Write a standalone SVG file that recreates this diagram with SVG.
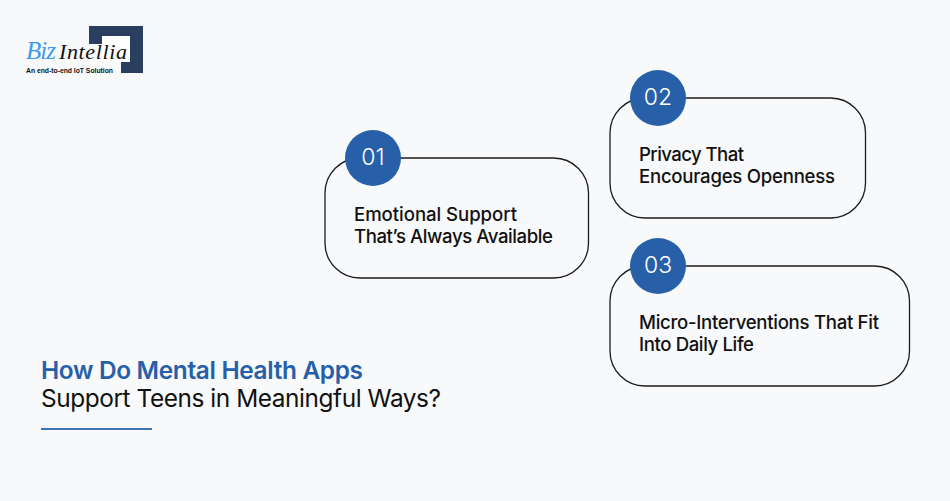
<svg xmlns="http://www.w3.org/2000/svg" width="950" height="501" viewBox="0 0 950 501">
<style>
.card{fill:none;stroke:#1c1c1c;stroke-width:1.3}
.dot{fill:#275fa9}
.num{font:300 23px Inter,"Liberation Sans",sans-serif;fill:#fff;text-anchor:middle}
.lbl{font:500 18.6px Inter,"Liberation Sans",sans-serif;fill:#111}
</style>
<rect width="950" height="501" fill="#f8f9fb"/>
<g id="logo">
<path d="M89 26H143V73H121V62H130V36H102V44H89Z" fill="#2a3f5f"/>
<rect x="102" y="36" width="28" height="26" fill="#fff"/>
<text x="26" y="59" font-family="'Liberation Serif',serif" font-style="italic" font-size="25" fill="#3f9bea" textLength="30">Biz</text>
<text x="59" y="59" font-family="'Liberation Serif',serif" font-style="italic" font-size="22" fill="#111" textLength="68">Intellia</text>
<text x="26" y="73" font-family="'Liberation Sans',sans-serif" font-weight="700" font-size="6.8" fill="#111" textLength="87">An end-to-end IoT Solution</text>
</g>
<g id="title">
<text x="41" y="379" font-family="Inter,'Liberation Sans',sans-serif" font-weight="600" font-size="24.4" fill="#275fa9" textLength="322">How Do Mental Health Apps</text>
<text x="41" y="407" font-family="Inter,'Liberation Sans',sans-serif" font-size="24.4" fill="#111" textLength="400">Support Teens in Meaningful Ways?</text>
<rect x="41" y="428" width="111" height="2" fill="#3f72b8"/>
</g>
<g id="node-01">
<rect class="card" x="325" y="158" width="263.500" height="120" rx="35"/>
<circle class="dot" cx="373" cy="158" r="28"/>
<text class="num" x="373" y="165">01</text>
<text class="lbl" x="354" y="221" textLength="163">Emotional Support</text>
<text class="lbl" x="354" y="243" textLength="199">That’s Always Available</text>
</g>
<g id="node-02">
<rect class="card" x="610" y="98" width="255.500" height="120" rx="35"/>
<circle class="dot" cx="658" cy="98" r="28"/>
<text class="num" x="658" y="105">02</text>
<text class="lbl" x="639" y="161" textLength="105">Privacy That</text>
<text class="lbl" x="639" y="183" textLength="196">Encourages Openness</text>
</g>
<g id="node-03">
<rect class="card" x="610" y="266" width="299.500" height="120" rx="35"/>
<circle class="dot" cx="658" cy="266" r="28"/>
<text class="num" x="658" y="273">03</text>
<text class="lbl" x="639" y="329" textLength="240">Micro-Interventions That Fit</text>
<text class="lbl" x="639" y="351" textLength="115">Into Daily Life</text>
</g>
<g id="connectors"/>
</svg>
